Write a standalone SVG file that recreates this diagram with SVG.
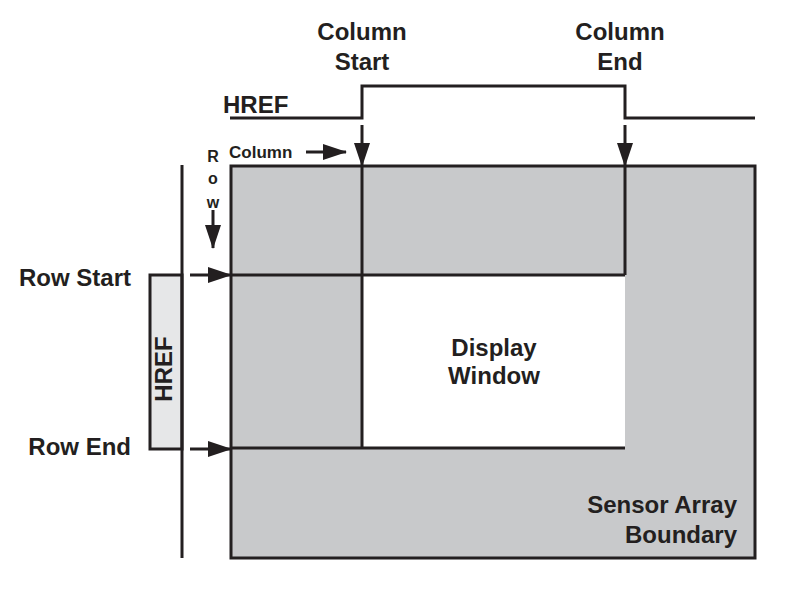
<svg xmlns="http://www.w3.org/2000/svg" width="794" height="592" viewBox="0 0 794 592">
<style>
.t{font-family:"Liberation Sans",Arial,sans-serif;font-weight:bold;fill:#231f20;font-size:24px}
.s{font-size:17px}
.r{font-size:16px}
.ln{stroke:#231f20;stroke-width:3;fill:none}
</style>
<defs>
<marker id="ah" viewBox="0 0 24 16" refX="23" refY="8" markerWidth="24" markerHeight="16" markerUnits="userSpaceOnUse" orient="auto"><path d="M0,0 L24,8 L0,16 z" fill="#231f20"/></marker>
</defs>
<rect width="794" height="592" fill="#fff"/>
<g id="sensor">
<rect x="231" y="166" width="524" height="392" fill="#c8c9cb" stroke="#231f20" stroke-width="3"/>
<text class="t" x="737" y="513" text-anchor="end">Sensor Array</text>
<text class="t" x="737" y="543" text-anchor="end">Boundary</text>
</g>
<g id="window">
<rect x="362" y="275" width="263" height="173" fill="#fff"/>
<text class="t" x="494" y="356" text-anchor="middle">Display</text>
<text class="t" x="494" y="384" text-anchor="middle">Window</text>
</g>
<g id="href-v">
<rect x="150" y="275" width="32" height="174" fill="#e6e7e8" stroke="#231f20" stroke-width="3"/>
<text class="t" transform="translate(172,369) rotate(-90)" text-anchor="middle">HREF</text>
</g>
<g id="labels">
<text class="t" x="131" y="286" text-anchor="end">Row Start</text>
<text class="t" x="131" y="455" text-anchor="end">Row End</text>
<text class="t" x="362" y="40" text-anchor="middle">Column</text>
<text class="t" x="362" y="70" text-anchor="middle">Start</text>
<text class="t" x="620" y="40" text-anchor="middle">Column</text>
<text class="t" x="620" y="70" text-anchor="middle">End</text>
<text class="t" x="223" y="113">HREF</text>
<text class="t s" x="229" y="158">Column</text>
<text class="t r" x="213" y="162" text-anchor="middle">R</text>
<text class="t r" x="213" y="184" text-anchor="middle">o</text>
<text class="t r" x="213" y="208" text-anchor="middle">w</text>
</g>
<g id="connectors">
<path class="ln" d="M362,166 V448 M625,166 V275 M231,275 H625 M231,448 H625"/>
<path class="ln" d="M230,118 H362 V86 H625 V118 H755"/>
<path class="ln" d="M182,165 V558"/>
<path class="ln" d="M362,125 V166" marker-end="url(#ah)"/>
<path class="ln" d="M625,125 V166" marker-end="url(#ah)"/>
<path class="ln" d="M306,152 H346" marker-end="url(#ah)"/>
<path class="ln" d="M213,210 V248" marker-end="url(#ah)"/>
<path class="ln" d="M190,275 H231" marker-end="url(#ah)"/>
<path class="ln" d="M190,449 H231" marker-end="url(#ah)"/>
</g>
</svg>
